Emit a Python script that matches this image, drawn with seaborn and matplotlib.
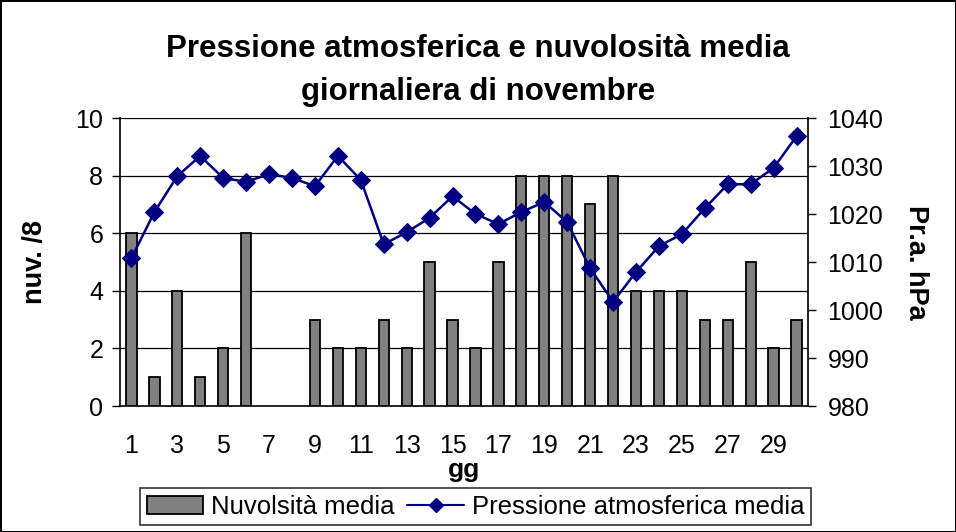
import matplotlib
matplotlib.use("Agg")
import matplotlib.pyplot as plt
import numpy as np
import pandas as pd
import seaborn as sns
from matplotlib.patches import Patch
from matplotlib.lines import Line2D

# dati di novembre
giorni = list(range(1, 31))
nuvolosita = [6, 1, 4, 1, 2, 6, 0, 0, 3, 2, 2, 3, 2, 5, 3, 2, 5, 8, 8, 8, 7, 8, 4, 4, 4, 3, 3, 5, 2, 3]
pressione = [1010.8, 1020.4, 1027.9, 1032.1, 1027.5, 1026.7, 1028.3, 1027.5, 1025.8, 1032.1,
             1027.1, 1013.7, 1016.2, 1019.2, 1023.7, 1020.0, 1017.9, 1020.4, 1022.5, 1018.3,
             1008.7, 1001.7, 1007.9, 1013.3, 1015.8, 1021.2, 1026.2, 1026.2, 1029.6, 1036.2]
etichette_x = [str(g) for g in range(1, 30, 2)]

df = pd.DataFrame({"gg": giorni, "nuv": nuvolosita, "pr": pressione})

sns.set_style("white")
plt.rcParams['font.family'] = ['Liberation Sans', 'DejaVu Sans']
plt.rcParams['text.color'] = 'black'
plt.rcParams['axes.labelcolor'] = 'black'
plt.rcParams['xtick.color'] = 'black'
plt.rcParams['ytick.color'] = 'black'

fig = plt.figure(figsize=(9.56, 5.32), dpi=100)
fig.patch.set_edgecolor("black")
fig.patch.set_linewidth(2)
ax = fig.add_axes([120/956, 1-406/532, 688/956, 288/532])

sns.barplot(data=df, x="gg", y="nuv", native_scale=True, color="#808080", saturation=1,
            edgecolor="black", linewidth=1.3, width=0.45, ax=ax, zorder=3)
# niente barra per i giorni a nuvolosità zero
for p in ax.patches:
    if p.get_height() == 0:
        p.set_visible(False)
ax.set_ylim(0, 10)
ax.set_xlim(0.5, 30.5)
ax.set_yticks(range(0, 11, 2))
for v in range(2, 11, 2):
    ax.axhline(v, color="black", lw=0.9, zorder=1)

# tick x: etichette sui giorni dispari, trattini ai bordi delle categorie
ax.set_xticks(range(1, 30, 2))
ax.set_xticklabels(etichette_x)
ax.set_xticks(np.arange(0.5, 31, 1), minor=True)
ax.tick_params(axis="x", which="major", length=0, pad=20, labelsize=18)
ax.tick_params(axis="x", which="minor", length=9, direction="inout", width=1, color="black")
ax.tick_params(axis="y", which="major", length=6, direction="out", width=1, labelsize=18,
               left=True, color="black", pad=6)
ax.set_xlabel("gg", fontsize=19, fontweight="bold", labelpad=0)
ax.set_ylabel("nuv. /8", fontsize=19.5, fontweight="bold")
ax.yaxis.set_label_coords(-0.1235, 0.5)
ax.yaxis.label.set_va("center")
for s in ["left", "bottom"]:
    ax.spines[s].set_color("black")
    ax.spines[s].set_linewidth(1.2)
ax.spines["top"].set_visible(False)
ax.spines["right"].set_visible(False)

ax2 = ax.twinx()
sns.lineplot(data=df, x="gg", y="pr", color="#000080", marker="D", markersize=9,
             markeredgecolor="#000080", lw=1.8, ax=ax2, zorder=4)
ax2.set_ylim(980, 1040)
ax2.set_yticks(range(980, 1041, 10))
ax2.tick_params(axis="y", length=6, direction="out", width=1, labelsize=18, right=True,
                color="black", pad=8)
ax2.set_ylabel("Pr.a. hPa", fontsize=19.5, fontweight="bold", rotation=270)
ax2.yaxis.set_label_coords(1.157, 0.5)
ax2.yaxis.label.set_va("center")
ax2.spines["right"].set_color("black")
ax2.spines["right"].set_linewidth(1.2)
ax2.spines["top"].set_visible(False)
ax2.spines["left"].set_visible(False)
ax2.spines["bottom"].set_visible(False)
ax2.set_xlim(0.5, 30.5)

fig.text(478/956, 1-57/532, "Pressione atmosferica e nuvolosità media",
         ha="center", va="baseline", fontsize=22.5, fontweight="bold")
fig.text(478/956, 1-100/532, "giornaliera di novembre",
         ha="center", va="baseline", fontsize=22.5, fontweight="bold")

handles = [Patch(facecolor="#808080", edgecolor="black", linewidth=1.3),
           Line2D([], [], color="#000080", marker="D", markersize=7, lw=1.5)]
leg = fig.legend(handles, ["Nuvolsità media", "Pressione atmosferica media"], loc="center",
                 bbox_to_anchor=(475.5/956, 1-506.5/532), ncol=2, fontsize=18.5, frameon=True,
                 fancybox=False, edgecolor="black", borderpad=0.25, handlelength=2.2,
                 columnspacing=0.5, handletextpad=0.3)
leg.get_frame().set_linewidth(1.2)

fig.savefig("out.png", dpi=100)
